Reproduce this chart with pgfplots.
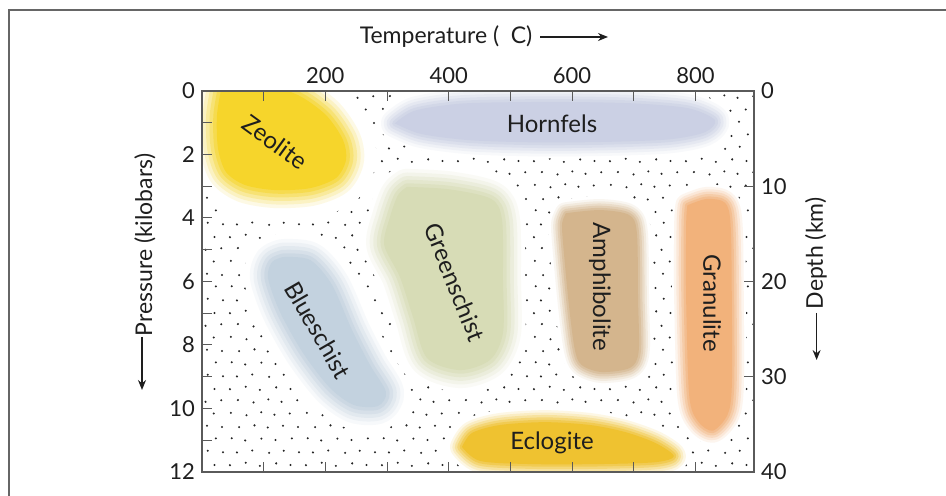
\documentclass[border=0pt]{standalone}
\usepackage{fontspec}
\setmainfont{Lato}
\usepackage{pgfplots}
\usepackage{pgfplotstable}
\pgfplotsset{compat=1.18}
\usetikzlibrary{patterns,arrows.meta}

\newcommand\stdot[2]{\pgfpathcircle{\pgfqpoint{#1pt}{#2pt}}{0.58pt}}
\pgfdeclarepatternformonly{stipple}{\pgfqpoint{0pt}{0pt}}{\pgfqpoint{38pt}{38pt}}{\pgfqpoint{38pt}{38pt}}{%
\stdot{1.5}{3.6}\stdot{9.4}{2.4}\stdot{16.8}{3.9}\stdot{23.5}{2.7}\stdot{31.2}{3.3}%
\stdot{5.0}{10.1}\stdot{12.9}{8.9}\stdot{20.4}{10.4}\stdot{27.1}{9.2}\stdot{35.0}{10.0}%
\stdot{1.0}{15.6}\stdot{9.0}{16.8}\stdot{16.1}{15.2}\stdot{24.4}{16.5}\stdot{31.6}{15.7}%
\stdot{4.5}{22.0}\stdot{12.3}{23.0}\stdot{20.8}{21.8}\stdot{28.2}{22.9}\stdot{35.9}{22.1}%
\stdot{1.9}{29.2}\stdot{8.7}{28.1}\stdot{16.9}{29.0}\stdot{24.0}{28.3}\stdot{32.3}{29.1}%
\stdot{5.6}{34.8}\stdot{13.4}{35.7}\stdot{20.1}{34.6}\stdot{27.8}{35.5}\stdot{35.4}{34.9}%
\pgfusepath{fill}}

\definecolor{zeo}{HTML}{F6D52B}
\definecolor{hor}{HTML}{CBD0E4}
\definecolor{blu}{HTML}{C3D2DF}
\definecolor{gre}{HTML}{D7DCB6}
\definecolor{amp}{HTML}{D4B58D}
\definecolor{gra}{HTML}{F2B27B}
\definecolor{ecl}{HTML}{EFC230}
\definecolor{axgray}{HTML}{5A5A5A}
\definecolor{txt}{HTML}{1E1E1E}

\pgfplotstableread{
T P
32.4 -0.19
97.3 -0.22
155.7 0.13
201.1 0.76
228.6 1.54
233.5 2.17
217.3 2.74
175.1 3.06
118.4 3.12
69.7 2.96
38.9 2.55
25.9 1.80
24.3 0.76
32.4 -0.19
}\zeolite

\pgfplotstableread{
T P
312.9 1.02
345 0.62
418.3 0.40
515.6 0.35
612.9 0.35
710.2 0.40
790 0.55
831.8 0.92
815 1.30
758.8 1.52
661.5 1.60
548.0 1.62
434.5 1.55
355 1.35
312.9 1.02
}\hornfels

\pgfplotstableread{
T P
131.3 5.23
175.1 5.32
210.8 6.11
243.2 7.53
272.4 8.63
298.3 9.48
285.4 9.92
246.5 9.89
207.5 9.35
163.8 8.25
126.5 6.96
107.0 5.89
113.5 5.39
131.3 5.23
}\blueschist

\pgfplotstableread{
T P
332.4 3.02
402.1 3.10
468.8 3.40
486.4 4.06
488.0 5.95
488.0 7.62
467.0 8.47
418.3 8.79
364.8 8.41
342.1 7.12
321.0 5.86
295.5 4.85
304.8 3.97
317.8 3.28
332.4 3.02
}\greenschist

\pgfplotstableread{
T P
590 3.85
645 3.75
692 3.90
705 4.45
707 6.58
708 8.20
694 8.72
647 8.85
615 8.62
604 8.10
594 6.58
585 4.69
584 4.15
590 3.85
}\amphibolite

\pgfplotstableread{
T P
787 3.60
818 3.40
848 3.52
857 4.20
859 6.58
859 9.30
852 10.20
828 10.70
804 10.40
790 9.60
785 6.58
785 4.20
787 3.60
}\granulite

\pgfplotstableread{
T P
421.6 11.21
437.8 10.77
483.2 10.52
556.1 10.43
629.1 10.52
685.9 10.74
735.6 11.09
765.0 11.50
735.6 11.69
645.3 11.75
531.8 11.75
450.7 11.65
421.6 11.21
}\eclogite

\newcommand\whitehalo[2]{\addplot[draw=white, fill=white, line width=#2, smooth, line join=round] table {#1} -- cycle;}
\newcommand\colorblob[3]{%
\addplot[draw=#2, draw opacity=0.12, line width=#3, smooth, line join=round] table {#1} -- cycle;
\addplot[draw=#2, draw opacity=0.18, line width=0.8*#3, smooth, line join=round] table {#1} -- cycle;
\addplot[draw=#2, draw opacity=0.25, line width=0.6*#3, smooth, line join=round] table {#1} -- cycle;
\addplot[draw=#2, draw opacity=0.35, line width=0.4*#3, smooth, line join=round] table {#1} -- cycle;
\addplot[draw=#2, draw opacity=0.5, line width=0.2*#3, smooth, line join=round] table {#1} -- cycle;
\addplot[fill=#2, draw=none, smooth] table {#1} -- cycle;}

\begin{document}
\begin{tikzpicture}
\useasboundingbox (0,0) rectangle (473pt,248pt);
\draw[color=gray!80!black, line width=1pt] (4.5pt,0pt) -- (4.5pt,243pt) -- (473pt,243pt);

\begin{axis}[at={(101pt,12pt)}, anchor=south west,
  width=276pt, height=190.5pt, scale only axis,
  xmin=0, xmax=895, ymin=0, ymax=12, y dir=reverse,
  axis on top, clip=true,
  xtick={100,200,...,800}, xticklabels={,200,,400,,600,,800},
  xticklabel pos=top, xtick pos=both,
  ytick={0,1,...,12}, yticklabels={0,,2,,4,,6,,8,,10,,12}, ytick pos=left,
  tick align=inside, major tick length=5pt,
  axis line style={draw=axgray, line width=0.7pt},
  every tick/.style={draw=axgray, line width=0.5pt},
  tick label style={font=\fontsize{11}{13}\selectfont, text=txt},
  /pgf/number format/assume math mode=true,
]
\fill[pattern=stipple, pattern color=black!85] (rel axis cs:0,0) rectangle (rel axis cs:1,1);

\whitehalo{\zeolite}{30pt}
\whitehalo{\hornfels}{16pt}
\whitehalo{\blueschist}{24pt}
\whitehalo{\greenschist}{22pt}
\whitehalo{\amphibolite}{14pt}
\whitehalo{\granulite}{14pt}
\whitehalo{\eclogite}{15pt}

\colorblob{\zeolite}{zeo}{18pt}
\colorblob{\hornfels}{hor}{14pt}
\colorblob{\blueschist}{blu}{18pt}
\colorblob{\greenschist}{gre}{18pt}
\colorblob{\amphibolite}{amp}{11pt}
\colorblob{\granulite}{gra}{12pt}
\colorblob{\eclogite}{ecl}{12pt}

\begin{scope}[every node/.style={font=\fontsize{12}{14}\selectfont, text=txt}]
\node[rotate=-36] at (axis cs:118.4,1.61) {Zeolite};
\node at (axis cs:567.5,1.04) {Hornfels};
\node[rotate=-60] at (axis cs:188.1,7.53) {Blueschist};
\node[rotate=-68] at (axis cs:410.2,6.02) {Greenschist};
\node[rotate=-90] at (axis cs:645.3,6.17) {Amphibolite};
\node[rotate=-90] at (axis cs:826.9,6.68) {Granulite};
\node at (axis cs:567.5,11.09) {Eclogite};
\end{scope}
\end{axis}

\begin{axis}[at={(101pt,12pt)}, anchor=south west,
  width=276pt, height=190.5pt, scale only axis,
  xmin=0, xmax=895, ymin=0, ymax=40, y dir=reverse,
  axis x line=none, axis y line*=right,
  ytick={0,10,20,30,40},
  tick align=inside, major tick length=5pt,
  axis line style={draw=axgray, line width=0.7pt},
  every tick/.style={draw=axgray, line width=0.5pt},
  tick label style={font=\fontsize{11}{13}\selectfont, text=txt},
  /pgf/number format/assume math mode=true,
]
\end{axis}

\node[font=\fontsize{11.5}{13}\selectfont, text=txt] at (223pt,229.5pt) {Temperature (\hspace{0.5em}C)};
\draw[-{Stealth[length=5pt,width=4pt]}, line width=0.6pt, txt] (270pt,229.5pt) -- (304pt,229.5pt);

\node[rotate=90, font=\fontsize{11.5}{13}\selectfont, text=txt] at (72.5pt,125.5pt) {Pressure (kilobars)};
\draw[-{Stealth[length=5pt,width=4pt]}, line width=0.6pt, txt] (71pt,79.5pt) -- (71pt,53pt);

\node[rotate=90, font=\fontsize{11.5}{13}\selectfont, text=txt] at (408pt,121.25pt) {Depth (km)};
\draw[-{Stealth[length=5pt,width=4pt]}, line width=0.6pt, txt] (408.3pt,91.5pt) -- (408.3pt,68pt);
\end{tikzpicture}
\end{document}
